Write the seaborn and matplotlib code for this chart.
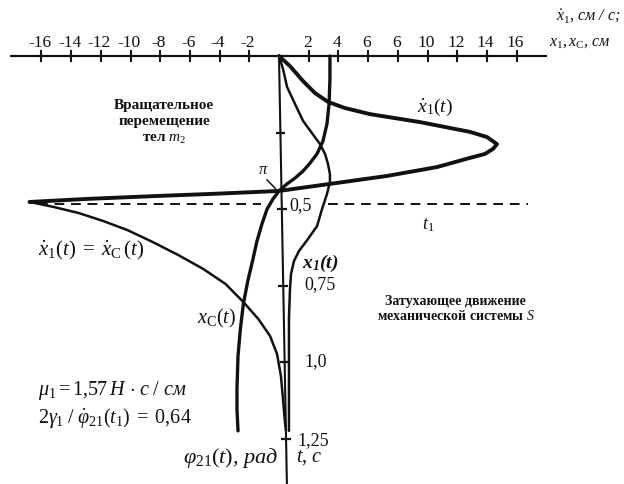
import matplotlib
matplotlib.use("Agg")
import matplotlib.pyplot as plt
import seaborn as sns

# --- data -------------------------------------------------------------
# velocity of mass 1, cm/s, against time t, s (loop up to t1, then decay)
t_vel = [0.0, 0.033, 0.082, 0.121, 0.150, 0.170, 0.190, 0.203, 0.216,
         0.232, 0.248, 0.265, 0.288, 0.304, 0.320, 0.333, 0.363, 0.392,
         0.418, 0.441, 0.450, 0.458, 0.467, 0.477,
         0.493, 0.513, 0.539, 0.569, 0.608, 0.650, 0.696, 0.745, 0.804,
         0.859, 0.915, 0.974, 1.046, 1.121, 1.196, 1.225]
vel = [0.0, 0.74, 1.62, 2.42, 3.30, 4.44, 6.13, 7.81, 9.49,
       11.18, 12.86, 14.01, 14.68, 14.40, 13.87, 12.86, 10.64, 7.27,
       3.43, 0.0, -4.2, -8.5, -12.9, -16.8,
       -15.2, -13.5, -11.85, -10.2, -8.5, -6.8, -5.1, -3.6, -2.4,
       -1.4, -0.6, -0.13, 0.13, 0.27, 0.40, 0.47]
tip_index = 23

# displacement of the centre of mass x_C, cm
t_xc = [0.0, 0.075, 0.157, 0.222, 0.278, 0.320, 0.350, 0.376, 0.399,
        0.418, 0.441, 0.467, 0.500, 0.549, 0.608, 0.663, 0.735, 0.810,
        0.892, 0.980, 1.088, 1.154, 1.225]
xc = [3.43, 3.43, 3.37, 3.23, 2.96, 2.56, 2.09, 1.62, 1.08,
      0.54, 0.0, -0.4, -0.8, -1.15, -1.5, -1.75, -2.1, -2.4,
      -2.6, -2.76, -2.83, -2.83, -2.76]

# displacement of mass 1, cm
t_x1 = [0.0, 0.042, 0.101, 0.157, 0.212, 0.252, 0.288, 0.320, 0.353,
        0.386, 0.412, 0.451, 0.500, 0.556, 0.598, 0.637, 0.670, 0.712,
        0.761, 0.859, 0.990, 1.121, 1.225]
x1 = [0.0, 0.27, 0.54, 1.08, 1.62, 2.22, 2.76, 3.10, 3.30,
      3.43, 3.43, 3.23, 2.90, 2.56, 1.95, 1.35, 1.01, 0.81,
      0.74, 0.67, 0.67, 0.67, 0.67]

top_ticks = [-16, -14, -12, -10, -8, -6, -4, -2, 2, 4, 6, 8, 10, 12, 14, 16]
top_labels = ["-16", "-14", "-12", "-10", "-8", "-6", "-4", "-2",
              "2", "4", "6", "6", "10", "12", "14", "16"]
t_ticks = [0.25, 0.5, 0.75, 1.0, 1.25]
t_labels = ["", "0,5", "0,75", "1,0", "1,25"]
t1 = 0.485

# --- style ------------------------------------------------------------
sns.set_theme(style="white")
plt.rcParams["font.family"] = ["Liberation Serif", "DejaVu Serif"]
plt.rcParams["mathtext.fontset"] = "custom"
plt.rcParams["mathtext.rm"] = "Liberation Serif"
plt.rcParams["mathtext.it"] = "Liberation Serif:italic"
plt.rcParams["mathtext.bf"] = "Liberation Serif:bold:italic"

W, H = 624, 485
X0, SX = 279.0, 14.85     # pixel of zero and pixels per cm
Y0, SY = 57.0, 306.0      # pixel of t = 0 and pixels per second
T_END = (H - Y0) / SY
LEAN = 0.38               # the time axis leans slightly to the right
ink = "#111111"

fig = plt.figure(figsize=(W / 100, H / 100), dpi=100)
ax = fig.add_axes([0, 0, 1, 1])
ax.set_xlim(-X0 / SX, (W - X0) / SX)
ax.set_ylim(T_END, -Y0 / SY)
ax.axis("off")


def put(x, y, s, **kw):
    kw.setdefault("color", ink)
    fig.text(x / W, 1 - y / H, s, **kw)


# --- axes -------------------------------------------------------------
ax.hlines(0, -18.1, 18.05, color=ink, lw=1.6)
ax.vlines(top_ticks, -0.018, 0.02, color=ink, lw=1.5)
for v, lab in zip(top_ticks, top_labels):
    ax.text(v - 0.1, -0.047, lab, ha="center", va="center", fontsize=12.5,
            color=ink)

ax.plot([0, LEAN * T_END], [0, T_END], color=ink, lw=1.5)
for tt in t_ticks:
    ax.hlines(tt, LEAN * tt - 0.33, LEAN * tt + 0.33, color=ink, lw=1.6)

# dashed line at t1
dash = (0, (5, 3.5))
ax.hlines(t1, -16.2, -1.2, color=ink, lw=1.4, linestyles=[dash])
ax.hlines(t1, 3.3, 16.8, color=ink, lw=1.4, linestyles=[dash])

# --- curves -----------------------------------------------------------
sns.lineplot(x=vel[:tip_index + 1], y=t_vel[:tip_index + 1], sort=False,
             estimator=None, color=ink, lw=2.8, ax=ax)
sns.lineplot(x=vel[tip_index:], y=t_vel[tip_index:], sort=False,
             estimator=None, color=ink, lw=1.8, ax=ax)
sns.lineplot(x=xc, y=t_xc, sort=False, estimator=None, color=ink,
             lw=2.4, ax=ax)
sns.lineplot(x=x1, y=t_x1, sort=False, estimator=None, color=ink,
             lw=1.8, ax=ax)

# --- labels -----------------------------------------------------------
put(289, 206, "0,5", fontsize=13, va="center")
put(304, 285, "0,75", fontsize=13, va="center")
put(304, 362, "1,0", fontsize=13, va="center")
put(297, 441, "1,25", fontsize=13, va="center")

put(556, 16, r"$\dot{x}_1$, см / с;", fontsize=11.5, style="italic", va="center")
put(549, 42, r"$x_1, x_\mathrm{C}$, см", fontsize=11.5, style="italic", va="center")

put(164, 105, "Вращательное", fontsize=11, weight="bold", ha="center", va="center")
put(164, 122, "перемещение", fontsize=11, weight="bold", ha="center", va="center")
put(164, 139, r"тел $m_2$", fontsize=11, weight="bold", ha="center", va="center")

put(435, 107, r"$\dot{x}_1(t)$", fontsize=14, ha="center", va="center")
put(263, 170, r"$\pi$", fontsize=12, ha="center", va="center")
ax.annotate("", xy=(-0.1, 0.44), xytext=(-0.95, 0.398),
            arrowprops=dict(arrowstyle="-", color=ink, lw=1.1))
put(428, 225, r"$t_1$", fontsize=13, ha="center", va="center")

put(38, 250, r"$\dot{x}_1(t)\;=\;\dot{x}_\mathrm{C}\,(t)$", fontsize=15, va="center")
put(302, 263, r"$\mathbf{x_1(t)}$", fontsize=14, va="center")
put(197, 318, r"$x_\mathrm{C}(t)$", fontsize=14.5, va="center")

put(455, 302, "Затухающее движение", fontsize=10, weight="bold", ha="center", va="center")
put(456, 316, r"механической системы $S$", fontsize=10, weight="bold", ha="center", va="center")

put(38, 390, r"$\mu_1 = 1{,}57\,H\,\cdot\,c\;/$ см", fontsize=14.5, style="italic", va="center")
put(38, 418, r"$2\gamma_1\;/\;\dot{\varphi}_{21}(t_1)\;=\;0{,}64$", fontsize=14.5, va="center")

put(278, 458, r"$\varphi_{21}(t)$, рад", fontsize=16, style="italic", ha="right", va="center")
put(296, 458, r"$t$, $c$", fontsize=14.5, va="center")

fig.savefig("out.png", dpi=100, facecolor="white")
